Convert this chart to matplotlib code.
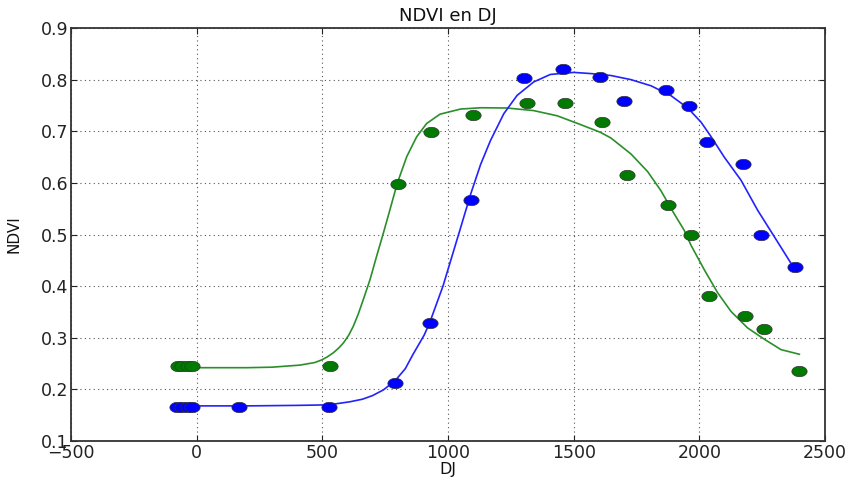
import numpy as np
import matplotlib
matplotlib.use("Agg")
import matplotlib.pyplot as plt
from matplotlib.path import Path

# ---- data ----
green_x = [-75, -58, -33, -17, 530, 800, 934, 1100, 1313, 1466, 1613, 1711, 1877, 1966, 2039, 2181, 2256, 2396]
green_y = [0.245, 0.245, 0.245, 0.245, 0.245, 0.598, 0.698, 0.731, 0.755, 0.755, 0.717, 0.615, 0.557, 0.500, 0.380, 0.342, 0.317, 0.235]

blue_x = [-78, -60, -35, -17, 168, 525, 790, 929, 1091, 1304, 1456, 1604, 1702, 1869, 1958, 2029, 2173, 2244, 2380]
blue_y = [0.1665, 0.1665, 0.1665, 0.1665, 0.1665, 0.1665, 0.213, 0.328, 0.567, 0.803, 0.821, 0.806, 0.758, 0.780, 0.748, 0.680, 0.636, 0.499, 0.438]

green_fit_x = [0, 100, 200, 300, 411, 470, 497, 520, 544, 565, 584, 605, 623, 643, 663, 690, 716, 743, 769, 798,
               836, 875, 915, 968, 1050, 1130, 1235, 1341, 1434, 1527, 1606, 1648, 1728, 1794, 1847, 1900,
               1940, 1967, 2020, 2073, 2126, 2192, 2259, 2325, 2398]
green_fit_y = [0.242, 0.242, 0.242, 0.243, 0.247, 0.252, 0.257, 0.263, 0.271, 0.280, 0.290, 0.305, 0.322,
               0.346, 0.374, 0.413, 0.458, 0.503, 0.548, 0.599, 0.651, 0.689, 0.715, 0.733, 0.743, 0.7455,
               0.745, 0.740, 0.730, 0.713, 0.698, 0.687, 0.656, 0.622, 0.585, 0.540, 0.508, 0.479, 0.4315,
               0.387, 0.351, 0.319, 0.297, 0.277, 0.268]

blue_fit_x = [0, 200, 400, 525, 610, 660, 700, 743, 790, 830, 861, 905, 927, 980, 1047, 1090, 1130, 1169,
              1222, 1275, 1341, 1407, 1500, 1569, 1648, 1728, 1808, 1887, 1954, 2007, 2046, 2099, 2166,
              2232, 2298, 2365, 2385]
blue_fit_y = [0.168, 0.168, 0.169, 0.170, 0.176, 0.181, 0.188, 0.199, 0.217, 0.240, 0.268, 0.305, 0.329,
              0.400, 0.508, 0.578, 0.636, 0.682, 0.734, 0.7695, 0.7955, 0.810, 0.814, 0.8117, 0.808,
              0.800, 0.788, 0.769, 0.745, 0.7175, 0.690, 0.650, 0.605, 0.547, 0.496, 0.444, 0.428]

title = "NDVI en DJ"
xlabel = "DJ"
ylabel = "NDVI"

# ---- figure ----
plt.rcParams['font.family'] = ['DejaVu Sans']
fig = plt.figure(figsize=(8.48, 4.78), dpi=100)
ax = fig.add_axes([71 / 848, 1 - 441 / 478, (825 - 71) / 848, (441 - 28) / 478])

# horizontally stretched elliptical marker, as in the reference
t = np.linspace(0, 2 * np.pi, 60)
ell = Path(np.column_stack([np.cos(t) * 0.5, np.sin(t) * 0.34]), closed=True)

ax.plot(green_fit_x, green_fit_y, color='#2a8f2a', lw=1.2, zorder=2)
ax.plot(blue_fit_x, blue_fit_y, color='#2222ff', lw=1.2, zorder=2)
ax.plot(green_x, green_y, linestyle='none', marker=ell, markersize=11,
        markerfacecolor='#007a00', markeredgecolor='#333333', markeredgewidth=0.5, zorder=3)
ax.plot(blue_x, blue_y, linestyle='none', marker=ell, markersize=11,
        markerfacecolor='#0000ff', markeredgecolor='#333333', markeredgewidth=0.5, zorder=3)

ax.set_xlim(-500, 2500)
ax.set_ylim(0.1, 0.9)
ax.set_xticks([-500, 0, 500, 1000, 1500, 2000, 2500])
ax.set_yticks([0.1, 0.2, 0.3, 0.4, 0.5, 0.6, 0.7, 0.8, 0.9])
ax.set_yticklabels(["0.1", "0.2", "0.3", "0.4", "0.5", "0.6", "0.7", "0.8", "0.9"])
ax.set_xticklabels(["\u2212500", "0", "500", "1000", "1500", "2000", "2500"])
ax.grid(True, linestyle=(0, (1, 3)), color='#555555', linewidth=0.8)
ax.tick_params(direction='in', top=True, right=True, length=4, labelsize=12.5, colors='#222222', pad=2)
for s in ax.spines.values():
    s.set_linewidth(1.3)
    s.set_color('#333333')

ax.set_title(title, fontsize=13, pad=5, color='#111111')
ax.set_xlabel(xlabel, fontsize=11.5, labelpad=0, color='#111111')
ax.set_ylabel(ylabel, fontsize=11, labelpad=14, color='#111111')

fig.savefig("out.png", dpi=100)
